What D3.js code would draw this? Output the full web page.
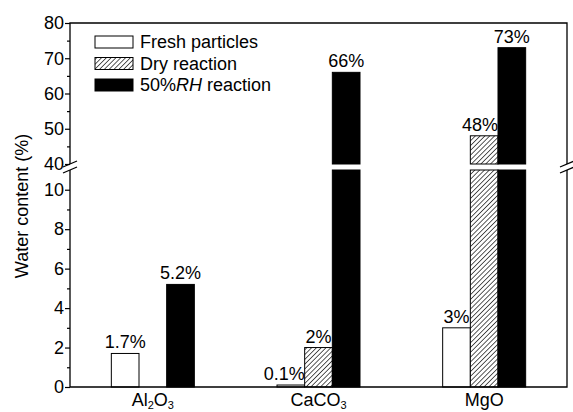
<!DOCTYPE html>
<html>
<head>
<meta charset="utf-8">
<script src="https://cdn.jsdelivr.net/npm/d3@7"></script>
<style>
  html, body { margin: 0; padding: 0; background: #fff; }
  svg { display: block; font-family: "Liberation Sans", Arial, sans-serif; }
</style>
</head>
<body>
<svg id="chart" width="573" height="412"></svg>
<script>
// Water content of mineral particles before and after reaction
const categories = ["Al2O3", "CaCO3", "MgO"];
const seriesNames = ["Fresh particles", "Dry reaction", "50%RH reaction"];
const freshValues = [1.7, 0.1, 3];
const dryValues = [0, 2, 48];
const wetValues = [5.2, 66, 73];
const lowTicks = [0, 2, 4, 6, 8, 10];
const highTicks = [40, 50, 60, 70, 80];
const lowMinorTicks = [1, 3, 5, 7, 9];
const highMinorTicks = [45, 55, 65, 75];

const series = [freshValues, dryValues, wetValues];
const fills = ["#fff", "url(#hatch)", "#000"];

const svg = d3.select("#chart");
const plotLeft = 70, plotRight = 567, plotTop = 23, plotBottom = 387;
const lowTop = 170, highBottom = 164;
const fs = 18;

// Broken y axis: lower segment 0–11, upper segment 40–80
const yLow = d3.scaleLinear().domain([0, 11]).range([plotBottom, lowTop]);
const yHigh = d3.scaleLinear().domain([40, 80]).range([highBottom, plotTop]);

const x = d3.scalePoint().domain(categories).range([plotLeft, plotRight]).padding(0.5);
const groupWidth = 83;
const xs = d3.scaleBand().domain(d3.range(series.length)).range([-groupWidth / 2, groupWidth / 2]);

// hatch pattern for the dry-reaction bars
const defs = svg.append("defs");
const pat = defs.append("pattern").attr("id", "hatch")
  .attr("patternUnits", "userSpaceOnUse").attr("width", 3.4).attr("height", 3.4)
  .attr("patternTransform", "rotate(45)");
pat.append("rect").attr("width", 3.4).attr("height", 3.4).attr("fill", "#fff");
pat.append("line").attr("x1", 0).attr("y1", 0).attr("x2", 0).attr("y2", 3.4)
  .attr("stroke", "#000").attr("stroke-width", 1.3);

// bars
const bars = svg.append("g");
series.forEach((vals, si) => {
  vals.forEach((v, ci) => {
    if (!v) return;
    const bx = x(categories[ci]) + xs(si);
    const bw = xs.bandwidth();
    const lowVal = Math.min(v, 11);
    bars.append("rect")
      .attr("x", bx).attr("y", yLow(lowVal))
      .attr("width", bw).attr("height", yLow(0) - yLow(lowVal))
      .attr("fill", fills[si]).attr("stroke", "#000").attr("stroke-width", 1);
    if (v > 40) {
      bars.append("rect")
        .attr("x", bx).attr("y", yHigh(v))
        .attr("width", bw).attr("height", yHigh(40) - yHigh(v))
        .attr("fill", fills[si]).attr("stroke", "#000").attr("stroke-width", 1);
    }
  });
});

// value labels
const valueOf = v => v > 40 ? yHigh(v) : yLow(v);
const labels = svg.append("g").attr("font-size", fs).attr("fill", "#000");
series.forEach((vals, si) => {
  vals.forEach((v, ci) => {
    if (!v) return;
    const bx = x(categories[ci]) + xs(si);
    const bw = xs.bandwidth();
    const ty = valueOf(v) - 5;
    const t = labels.append("text").attr("y", ty).text(v + "%");
    const w = t.node().getComputedTextLength();
    const next = series[si + 1] ? series[si + 1][ci] : 0;
    if (w > bw + 2 && next && valueOf(next) < ty) {
      t.attr("x", bx + bw).attr("text-anchor", "end");
    } else {
      t.attr("x", bx + bw / 2).attr("text-anchor", "middle");
    }
  });
});

// y axes
function yAxis(scale, ticks, minor) {
  const g = svg.append("g").attr("transform", `translate(${plotLeft},0)`);
  g.call(d3.axisLeft(scale).tickValues(ticks).tickSize(5).tickPadding(1))
    .call(a => a.select(".domain").remove());
  g.selectAll(".tick line").attr("stroke", "#000").attr("stroke-width", 1.2);
  g.selectAll(".tick text").attr("font-size", fs).attr("fill", "#000")
    .attr("font-family", "Liberation Sans, Arial, sans-serif");
  const m = svg.append("g").attr("transform", `translate(${plotLeft},0)`);
  m.call(d3.axisLeft(scale).tickValues(minor).tickSize(3).tickFormat(""))
    .call(a => a.select(".domain").remove());
  m.selectAll(".tick line").attr("stroke", "#000").attr("stroke-width", 1.2);
}
yAxis(yLow, lowTicks, lowMinorTicks);
yAxis(yHigh, highTicks, highMinorTicks);

// frame with breaks on both sides
const frame = svg.append("g").attr("stroke", "#000").attr("stroke-width", 1.3).attr("fill", "none");
const gapMid = (highBottom + lowTop) / 2;
frame.append("path").attr("d", `M${plotLeft},${gapMid - 3}V${plotTop}H${plotRight}V${gapMid - 3}`);
frame.append("path").attr("d", `M${plotLeft},${gapMid + 3}V${plotBottom}H${plotRight}V${gapMid + 3}`);
[plotLeft, plotRight].forEach(cx => {
  [-3, 3].forEach(dy => {
    frame.append("line")
      .attr("x1", cx - 7).attr("y1", gapMid + dy + 3)
      .attr("x2", cx + 7).attr("y2", gapMid + dy - 3);
  });
});

// category labels with subscripts
const catText = { "Al2O3": ["Al", "2", "O", "3"], "CaCO3": ["CaCO", "3"], "MgO": ["MgO"] };
categories.forEach(c => {
  const t = svg.append("text").attr("x", x(c)).attr("y", 406)
    .attr("text-anchor", "middle").attr("font-size", fs);
  catText[c].forEach((part, i) => {
    const isSub = /^\d$/.test(part);
    t.append("tspan").attr("font-size", isSub ? 11 : fs)
      .attr("dy", isSub ? 3 : (i > 0 ? -3 : 0))
      .text(part);
  });
});

// y title
svg.append("text")
  .attr("transform", "translate(28,206) rotate(-90)")
  .attr("text-anchor", "middle").attr("font-size", fs)
  .text("Water content (%)");

// legend
const legend = svg.append("g");
seriesNames.forEach((name, i) => {
  const ly = 36 + i * 21.5;
  legend.append("rect").attr("x", 95).attr("y", ly).attr("width", 38).attr("height", 12)
    .attr("fill", fills[i]).attr("stroke", "#000").attr("stroke-width", 1);
  const t = legend.append("text").attr("x", 140).attr("y", ly + 12).attr("font-size", fs);
  if (name.includes("RH")) {
    t.append("tspan").text("50%");
    t.append("tspan").attr("font-style", "italic").text("RH");
    t.append("tspan").text(" reaction");
  } else {
    t.text(name);
  }
});
</script>
</body>
</html>
